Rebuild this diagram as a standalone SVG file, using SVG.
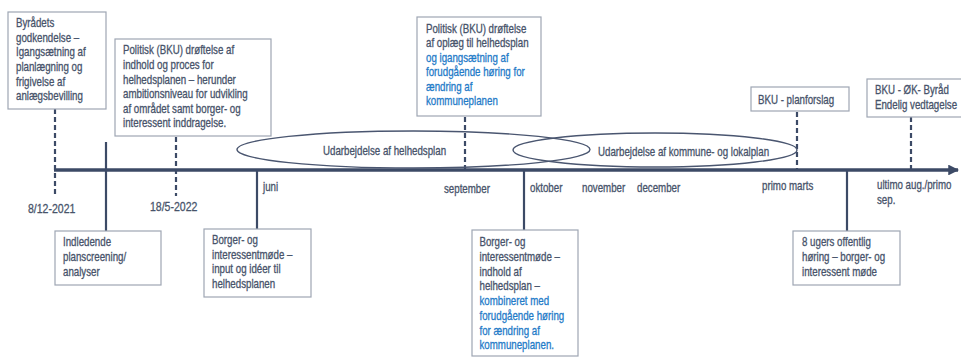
<svg xmlns="http://www.w3.org/2000/svg" width="961" height="358" viewBox="0 0 961 358">
<style>
text{font-family:"Liberation Sans",Arial,sans-serif;font-size:12px;fill:#47536a;stroke:#47536a;stroke-width:0.3}
.b{fill:#1f7bc8;stroke:#1f7bc8}
.box{fill:#fff;stroke:#9ea6b3;stroke-width:1.2}
.dash{stroke:#3c4a66;stroke-width:2.2;stroke-dasharray:5,3;fill:none}
.tick{stroke:#3c4a66;stroke-width:2.2;fill:none}
.ell{fill:none;stroke:#4a5670;stroke-width:1.4}
</style>
<defs>
<marker id="arr" viewBox="0 0 10 10" refX="9" refY="5" markerWidth="3" markerHeight="3" orient="auto" markerUnits="strokeWidth">
<path d="M0,0 L10,5 L0,10 z" fill="#3c4a66"/>
</marker>
</defs>
<rect width="961" height="358" fill="#fff"/>

<g id="connectors">
<line x1="54" y1="170" x2="958" y2="170" stroke="#3c4a66" stroke-width="3.6" marker-end="url(#arr)"/>
<line class="dash" x1="55" y1="109" x2="55" y2="196"/>
<line class="dash" x1="176" y1="137" x2="176" y2="196"/>
<line class="tick" x1="106" y1="142" x2="106" y2="231"/>
<line class="tick" x1="257" y1="170" x2="257" y2="229"/>
<line class="dash" x1="465" y1="117" x2="465" y2="170"/>
<line class="tick" x1="524" y1="170" x2="524" y2="230"/>
<line class="dash" x1="797" y1="112" x2="797" y2="170"/>
<line class="dash" x1="911" y1="117" x2="911" y2="170"/>
<line class="tick" x1="847" y1="170" x2="847" y2="231"/>
</g>

<g id="phase-helhedsplan">
<ellipse class="ell" cx="413.5" cy="149.5" rx="176.5" ry="18.5"/>
<text transform="translate(323 155) scale(0.81 1)">Udarbejdelse af helhedsplan</text>
</g>
<g id="phase-kommuneplan">
<ellipse class="ell" cx="655" cy="150" rx="142" ry="17"/>
<text transform="translate(598 156) scale(0.81 1)">Udarbejdelse af kommune- og lokalplan</text>
</g>

<g id="n-byraad">
<rect class="box" x="8" y="12" width="98" height="97"/>
<text transform="translate(16 0) scale(0.81 1)"><tspan x="0" y="27">Byrådets</tspan><tspan x="0" y="41.7">godkendelse –</tspan><tspan x="0" y="56.4">Igangsætning af</tspan><tspan x="0" y="71.1">planlægning og</tspan><tspan x="0" y="85.8">frigivelse af</tspan><tspan x="0" y="100.5">anlægsbevilling</tspan></text>
</g>

<g id="n-bku1">
<rect class="box" x="115" y="39" width="156" height="97"/>
<text transform="translate(123 0) scale(0.81 1)"><tspan x="0" y="54.5">Politisk (BKU) drøftelse af</tspan><tspan x="0" y="69.1">indhold og proces for</tspan><tspan x="0" y="83.7">helhedsplanen – herunder</tspan><tspan x="0" y="98.3">ambitionsniveau for udvikling</tspan><tspan x="0" y="112.9">af området samt borger- og</tspan><tspan x="0" y="127.5">interessent inddragelse.</tspan></text>
</g>

<g id="n-bku2">
<rect class="box" x="417" y="17" width="124" height="99"/>
<text transform="translate(426 0) scale(0.81 1)"><tspan x="0" y="33">Politisk (BKU) drøftelse</tspan><tspan x="0" y="47.5">af oplæg til helhedsplan</tspan><tspan class="b" x="0" y="62">og igangsætning af</tspan><tspan class="b" x="0" y="76.5">forudgående høring for</tspan><tspan class="b" x="0" y="91">ændring af</tspan><tspan class="b" x="0" y="105.5">kommuneplanen</tspan></text>
</g>

<g id="n-planforslag">
<rect class="box" x="751" y="87" width="98" height="24"/>
<text transform="translate(758 103.5) scale(0.81 1)">BKU - planforslag</text>
</g>

<g id="n-vedtagelse">
<rect class="box" x="867" y="79" width="100" height="38"/>
<text transform="translate(875 0) scale(0.81 1)"><tspan x="0" y="94.5">BKU - ØK- Byråd</tspan><tspan x="0" y="109">Endelig vedtagelse</tspan></text>
</g>

<g id="n-planscreening">
<rect class="box" x="55" y="231" width="106" height="54"/>
<text transform="translate(63 0) scale(0.81 1)"><tspan x="0" y="246">Indledende</tspan><tspan x="0" y="261">planscreening/</tspan><tspan x="0" y="276">analyser</tspan></text>
</g>

<g id="n-borger1">
<rect class="box" x="204" y="229" width="107" height="68"/>
<text transform="translate(212 0) scale(0.81 1)"><tspan x="0" y="244.5">Borger- og</tspan><tspan x="0" y="259">interessentmøde –</tspan><tspan x="0" y="273.5">input og idéer til</tspan><tspan x="0" y="288">helhedsplanen</tspan></text>
</g>

<g id="n-borger2">
<rect class="box" x="472" y="230" width="106" height="126"/>
<text transform="translate(479.5 0) scale(0.81 1)"><tspan x="0" y="246">Borger- og</tspan><tspan x="0" y="261">interessentmøde –</tspan><tspan x="0" y="276">indhold af</tspan><tspan x="0" y="290.5">helhedsplan –</tspan><tspan class="b" x="0" y="305.5">kombineret med</tspan><tspan class="b" x="0" y="320">forudgående høring</tspan><tspan class="b" x="0" y="335">for ændring af</tspan><tspan class="b" x="0" y="349">kommuneplanen.</tspan></text>
</g>

<g id="n-hoering">
<rect class="box" x="793" y="231" width="107" height="54"/>
<text transform="translate(802 0) scale(0.81 1)"><tspan x="0" y="246">8 ugers offentlig</tspan><tspan x="0" y="261.5">høring – borger- og</tspan><tspan x="0" y="276.5">interessent møde</tspan></text>
</g>

<g id="dates">
<text transform="translate(28 213) scale(0.81 1)" style="font-size:13px">8/12-2021</text>
<text transform="translate(150 211) scale(0.81 1)" style="font-size:13px">18/5-2022</text>
<text transform="translate(263 191) scale(0.81 1)">juni</text>
<text transform="translate(444 192.5) scale(0.81 1)">september</text>
<text transform="translate(530 192) scale(0.81 1)">oktober</text>
<text transform="translate(582 191.5) scale(0.81 1)">november</text>
<text transform="translate(637 191.5) scale(0.81 1)">december</text>
<text transform="translate(762 189.5) scale(0.81 1)">primo marts</text>
<text transform="translate(877 0) scale(0.81 1)"><tspan x="0" y="189.5">ultimo aug./primo</tspan><tspan x="0" y="204">sep.</tspan></text>
</g>
</svg>
